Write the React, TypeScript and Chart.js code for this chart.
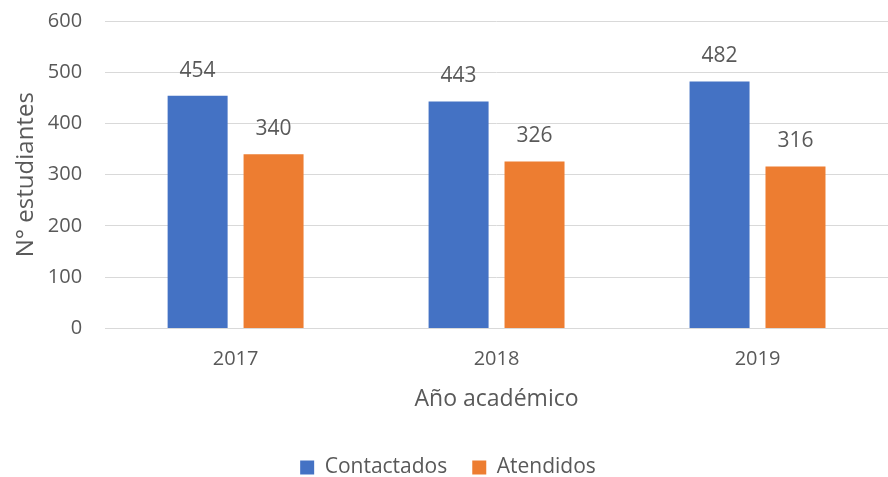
import React, { useEffect, useRef } from "react";
import { Chart, registerables } from "chart.js";

Chart.register(...registerables);

const categories = ["2017", "2018", "2019"];
const contactados = [454, 443, 482];
const atendidos = [340, 326, 316];
const seriesNames = ["Contactados", "Atendidos"];

const FONT = "'Open Sans', 'Noto Sans', sans-serif";
const TEXT = "#595959";

const dataLabels = {
  id: "dataLabels",
  afterDatasetsDraw(chart: any) {
    const ctx = chart.ctx;
    ctx.save();
    ctx.font = `21px ${FONT}`;
    ctx.fillStyle = TEXT;
    ctx.textAlign = "center";
    ctx.textBaseline = "middle";
    chart.data.datasets.forEach((ds: any, i: number) => {
      const meta = chart.getDatasetMeta(i);
      meta.data.forEach((bar: any, j: number) => {
        ctx.fillText(String(ds.data[j]), bar.x, bar.y - 25);
      });
    });
    ctx.restore();
  },
};

export default function App() {
  const ref = useRef<HTMLCanvasElement>(null);
  useEffect(() => {
    document.body.style.margin = "0";
    const chart = new Chart(ref.current!, {
      type: "bar",
      data: {
        labels: categories,
        datasets: [
          { label: seriesNames[0], data: contactados, backgroundColor: "#4472C4", categoryPercentage: 0.582, barPercentage: 0.79 },
          { label: seriesNames[1], data: atendidos, backgroundColor: "#ED7D31", categoryPercentage: 0.582, barPercentage: 0.79 },
        ],
      },
      options: {
        animation: false,
        responsive: false,
        maintainAspectRatio: false,
        layout: { padding: { top: 0, right: 0, left: 8, bottom: -11 } },
        plugins: {
          legend: {
            position: "bottom",
            labels: { font: { family: FONT, size: 21 }, color: TEXT, boxWidth: 14, boxHeight: 14, padding: 25 },
          },
          tooltip: { enabled: false },
        },
        scales: {
          x: {
            grid: { display: false, drawTicks: false },
            border: { color: "#d9d9d9" },
            ticks: { font: { family: FONT, size: 20 }, color: TEXT, padding: 19 },
            title: { display: true, text: "Año académico", font: { family: FONT, size: 23 }, color: TEXT, padding: { top: -5, bottom: 19 } },
          },
          y: {
            min: 0,
            max: 600,
            ticks: { stepSize: 100, font: { family: FONT, size: 20 }, color: TEXT, padding: 23 },
            grid: { color: "#d9d9d9", drawTicks: false },
            border: { display: false },
            title: { display: true, text: "N° estudiantes", font: { family: FONT, size: 24 }, color: TEXT, padding: { bottom: -16 } },
            afterFit: (scale: any) => {
              scale.paddingTop = 21;
              scale.paddingBottom = 0;
            },
          },
        },
      },
      plugins: [dataLabels],
    });
    return () => chart.destroy();
  }, []);
  return <canvas ref={ref} width={888} height={477} style={{ display: "block" }} />;
}
